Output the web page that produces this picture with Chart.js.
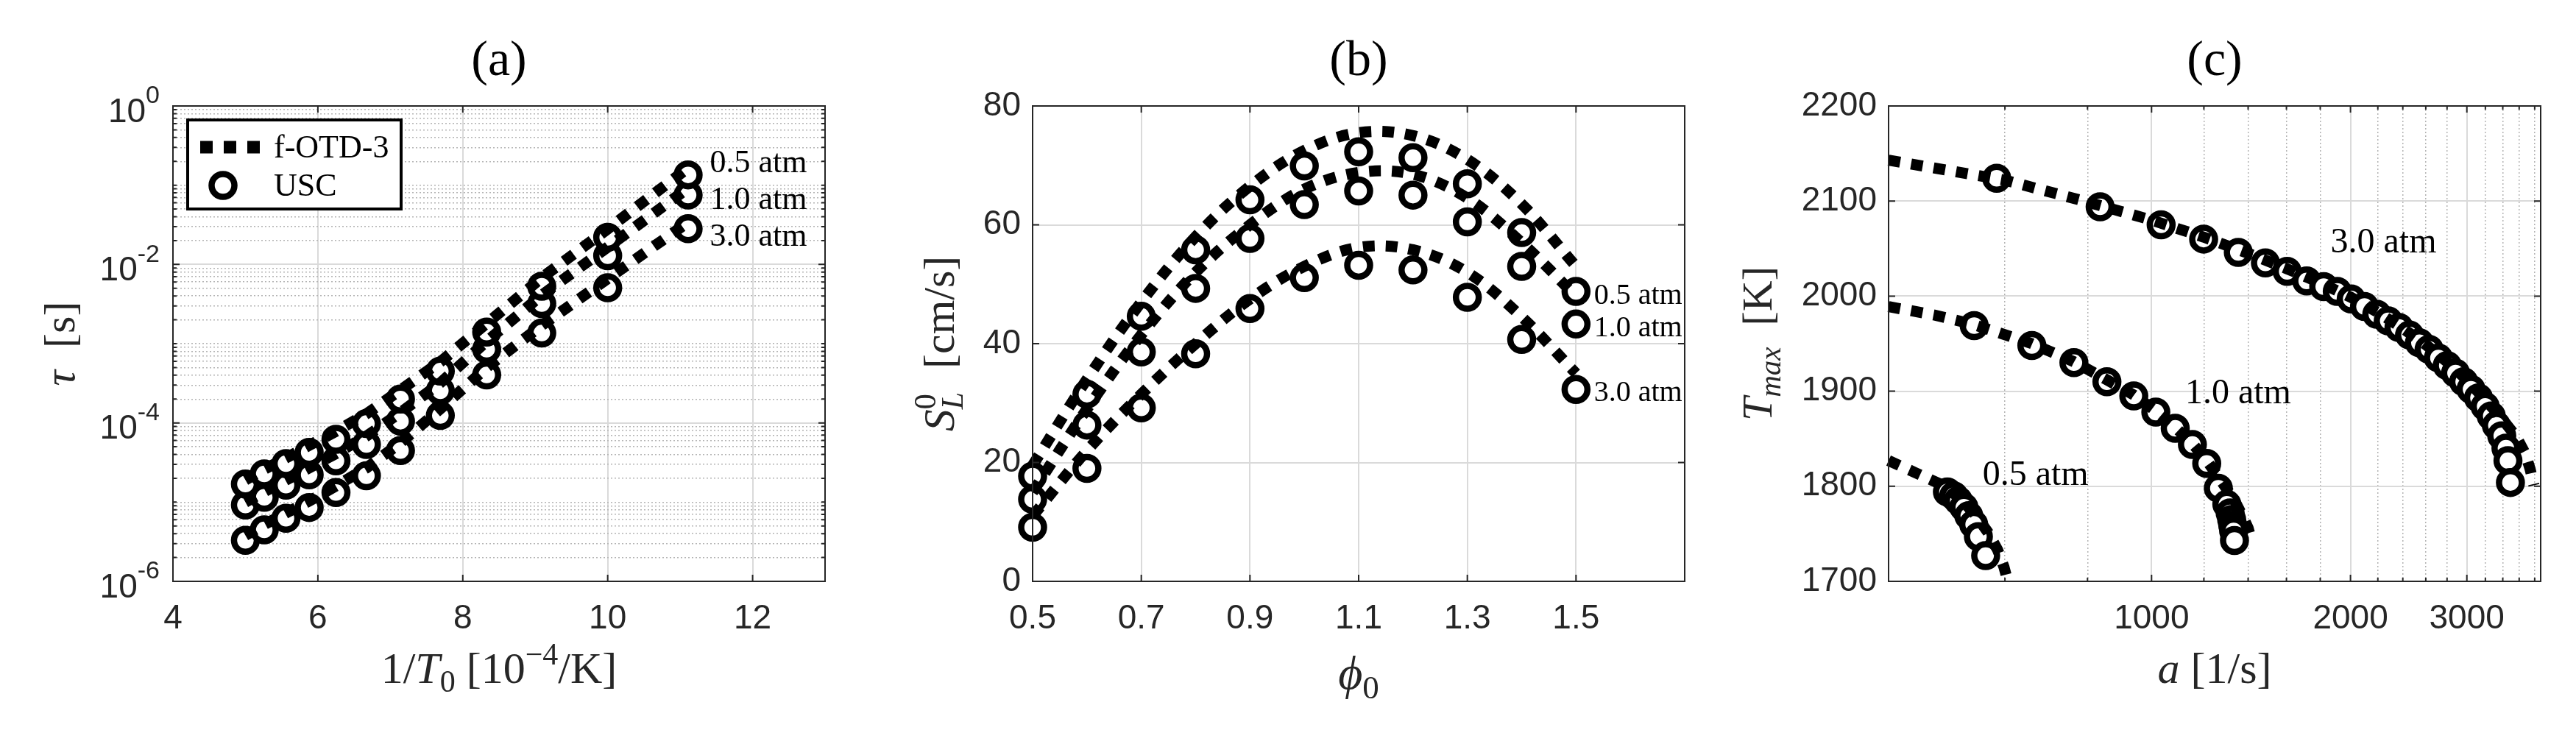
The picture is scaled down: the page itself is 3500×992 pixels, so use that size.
<!DOCTYPE html>
<html>
<head>
<meta charset="utf-8">
<script src="https://cdn.jsdelivr.net/npm/chart.js@4.4.1/dist/chart.umd.min.js"></script>
<style>
  html, body { margin: 0; padding: 0; background: #fff; }
  #wrap { position: relative; width: 3500px; height: 992px; background: #fff; }
  canvas { position: absolute; top: 0; }
</style>
</head>
<body>
<div id="wrap">
  <canvas id="ca" width="1166" height="992" style="left:0px"></canvas>
  <canvas id="cb" width="1167" height="992" style="left:1166px"></canvas>
  <canvas id="cc" width="1167" height="992" style="left:2333px"></canvas>
</div>
<script>
// ---- (a) ignition delay vs 1/T0 ----
const invT = [5.00, 5.26, 5.56, 5.88, 6.25, 6.67, 7.14, 7.69, 8.33, 9.09, 10.00, 11.11];
const tauUSC_05 = [1.69e-5, 2.27e-5, 3.06e-5, 4.25e-5, 6.2e-5, 9.8e-5, 2.0e-4, 4.5e-4, 1.40e-3, 5.3e-3, 2.2e-2, 0.135];
const tauUSC_10 = [9.2e-6, 1.15e-5, 1.64e-5, 2.21e-5, 3.32e-5, 5.34e-5, 1.05e-4, 2.54e-4, 8.5e-4, 3.2e-3, 1.29e-2, 0.075];
const tauUSC_30 = [3.3e-6, 4.46e-6, 6.26e-6, 8.55e-6, 1.32e-5, 2.15e-5, 4.48e-5, 1.24e-4, 4.03e-4, 1.36e-3, 5.07e-3, 0.0282];
const tauOTD_05 = [1.9e-5, 2.6e-5, 3.6e-5, 5.2e-5, 7.8e-5, 1.3e-4, 2.6e-4, 5.9e-4, 1.8e-3, 6.8e-3, 2.8e-2, 0.165];
const tauOTD_10 = [1.0e-5, 1.35e-5, 1.9e-5, 2.7e-5, 4.1e-5, 6.8e-5, 1.35e-4, 3.2e-4, 1.07e-3, 4.1e-3, 1.65e-2, 0.092];
const tauOTD_30 = [3.8e-6, 5.2e-6, 7.3e-6, 1.03e-5, 1.6e-5, 2.7e-5, 5.6e-5, 1.5e-4, 5.0e-4, 1.7e-3, 6.6e-3, 0.034];
const aTicksX = [4, 6, 8, 10, 12];
const aTicksY = [1e-6, 1e-4, 1e-2, 1];

// ---- (b) laminar flame speed vs phi ----
const phi = [0.5, 0.6, 0.7, 0.8, 0.9, 1.0, 1.1, 1.2, 1.3, 1.4, 1.5];
const slUSC_05 = [17.7, 31.5, 44.6, 55.8, 64.2, 69.9, 72.3, 71.3, 66.9, 58.7, 48.8];
const slUSC_10 = [13.8, 26.3, 38.6, 49.3, 57.7, 63.4, 65.7, 65.0, 60.5, 53.0, 43.3];
const slUSC_30 = [9.1, 19.0, 29.2, 38.3, 45.9, 51.1, 53.2, 52.4, 47.8, 40.7, 32.3];
const slOTD_05 = [19.5, 34.0, 47.0, 58.0, 66.5, 72.5, 75.5, 75.0, 71.0, 63.5, 53.0];
const slOTD_10 = [15.0, 29.0, 41.5, 52.0, 60.0, 66.0, 68.8, 68.5, 64.5, 57.0, 48.0];
const slOTD_30 = [11.0, 22.0, 31.5, 40.0, 47.5, 53.0, 56.2, 55.8, 52.0, 44.5, 35.0];
const bTicksX = [0.5, 0.7, 0.9, 1.1, 1.3, 1.5];
const bTicksY = [0, 20, 40, 60, 80];

// ---- (c) max temperature vs strain rate ----
const aUSC_30 = [583, 836, 1034, 1199, 1353, 1487, 1604, 1717, 1822, 1910, 2005, 2100, 2192, 2281, 2368, 2457, 2543, 2630, 2717, 2802, 2884, 2967, 3044, 3124, 3197, 3266, 3325, 3388, 3438, 3462, 3492];
const tUSC_30 = [2124, 2094, 2075, 2060, 2046, 2035, 2026, 2016, 2010, 2005, 1997, 1989, 1981, 1974, 1967, 1959, 1951, 1944, 1935, 1927, 1919, 1910, 1902, 1893, 1884, 1874, 1864, 1853, 1840, 1827, 1804];
const aUSC_10 = [539, 659, 763, 856, 940, 1015, 1086, 1153, 1212, 1262, 1300, 1315, 1322, 1327, 1331, 1335];
const tUSC_10 = [1969, 1948, 1930, 1910, 1895, 1878, 1861, 1844, 1824, 1798, 1781, 1772, 1765, 1759, 1753, 1743];
const aUSC_05 = [491, 502, 510, 520, 529, 538, 547, 561];
const tUSC_05 = [1794, 1790, 1785, 1778, 1769, 1760, 1747, 1727];
const aOTD_30 = [400, 600, 800, 1000, 1200, 1400, 1600, 1800, 2000, 2200, 2400, 2600, 2800, 3000, 3200, 3400, 3565, 3680, 3740, 3790];
const tOTD_30 = [2143, 2122, 2099, 2080, 2062, 2045, 2029, 2014, 1999, 1983, 1966, 1949, 1931, 1912, 1891, 1870, 1852, 1834, 1818, 1801];
const aOTD_10 = [400, 470, 539, 659, 763, 856, 940, 1015, 1086, 1153, 1212, 1262, 1300, 1340, 1375, 1400, 1418];
const tOTD_10 = [1989, 1980, 1970, 1950, 1931, 1912, 1896, 1879, 1862, 1845, 1827, 1810, 1797, 1783, 1768, 1756, 1742];
const aOTD_05 = [400, 440, 480, 510, 540, 565, 585, 598, 606];
const tOTD_05 = [1827, 1814, 1802, 1789, 1771, 1752, 1733, 1715, 1700];
const cTicksX = [1000, 2000, 3000];
const cMinorX = [600, 800, 1200, 1400, 1600, 1800, 2200, 2400, 2600, 2800, 3200, 3400, 3600, 3800];
const cTicksY = [1700, 1800, 1900, 2000, 2100, 2200];

const SANS = '"Liberation Sans", Arial, sans-serif';
const SERIF = '"Liberation Serif", "Times New Roman", serif';
const INK = '#262626';
const GRID = '#dadada';
const MINOR = '#b4b4b4';

function toXY(xs, ys) { return xs.map((x, i) => ({ x: x, y: ys[i] })); }

function usc(xs, ys) {
  return {
    data: toXY(xs, ys), showLine: false, order: 2, clip: false,
    pointRadius: 15.5, pointHoverRadius: 15.5, pointBorderWidth: 8.5, pointHoverBorderWidth: 8.5,
    pointBorderColor: '#000', pointBackgroundColor: '#fff'
  };
}
function otd(xs, ys, tension) {
  return {
    data: toXY(xs, ys), showLine: true, order: 1, clip: false, fill: false,
    borderColor: '#000', borderWidth: 15, borderDash: [16, 15], borderCapStyle: 'butt',
    tension: tension || 0, pointRadius: 0, pointHoverRadius: 0
  };
}
function setTicks(vals) { return ax => { ax.ticks = vals.map(v => ({ value: v })); }; }

function mainX(type, min, max, ticks, fmt) {
  return {
    type: type, position: 'bottom', min: min, max: max, afterBuildTicks: setTicks(ticks),
    grid: { color: GRID, lineWidth: 2, drawTicks: false },
    border: { display: false },
    ticks: { font: { family: SANS, size: 46 }, color: INK, padding: 24, autoSkip: false, maxRotation: 0, minRotation: 0, callback: fmt },
    afterFit: s => { s.height = 202; }
  };
}
function mainY(type, min, max, ticks, width, showLabels) {
  return {
    type: type, position: 'left', min: min, max: max, afterBuildTicks: setTicks(ticks),
    grid: { color: GRID, lineWidth: 2, drawTicks: false },
    border: { display: false },
    ticks: { display: showLabels, font: { family: SANS, size: 46 }, color: INK, padding: 16, callback: v => String(v) },
    afterFit: s => { s.width = width; }
  };
}
function minorAxis(type, pos, min, max, vals) {
  return {
    type: type, position: pos, min: min, max: max, afterBuildTicks: setTicks(vals),
    grid: { color: MINOR, lineWidth: 1.5, drawTicks: false },
    border: { display: false, dash: [2, 3] },
    ticks: { display: false },
    afterFit: s => { if (pos === 'left') s.width = 0; else s.height = 0; }
  };
}

function fnt(sz, it) { return (it ? 'italic ' : '') + sz + 'px ' + SERIF; }
// text with sub/superscripts, centred on (cx, cy)
function drawRich(ctx, parts, cx, cy, s, rot) {
  const ss = Math.round(s * 0.7);
  const items = [];
  let w = 0;
  for (const p of parts) {
    if (p.stack) {
      ctx.font = fnt(ss, false); const w1 = ctx.measureText(p.stack[0]).width;
      ctx.font = fnt(ss, p.it); const w2 = ctx.measureText(p.stack[1]).width;
      items.push({ p: p, x: w }); w += Math.max(w1, w2) + 2;
    } else {
      ctx.font = fnt(p.lv ? ss : s, p.it);
      items.push({ p: p, x: w }); w += ctx.measureText(p.t).width;
    }
  }
  ctx.save();
  ctx.translate(cx, cy);
  if (rot) ctx.rotate(rot);
  ctx.fillStyle = INK; ctx.textAlign = 'left'; ctx.textBaseline = 'alphabetic';
  const x0 = -w / 2, base = s * 0.3;
  for (const it of items) {
    const p = it.p;
    if (p.stack) {
      ctx.font = fnt(ss, false); ctx.fillText(p.stack[0], x0 + it.x, base - s * 0.42);
      ctx.font = fnt(ss, p.it); ctx.fillText(p.stack[1], x0 + it.x, base + s * 0.2);
    } else {
      ctx.font = fnt(p.lv ? ss : s, p.it);
      const dy = p.lv === 'sup' ? -s * 0.42 : (p.lv === 'sub' ? s * 0.2 : 0);
      ctx.fillText(p.t, x0 + it.x, base + dy);
    }
  }
  ctx.restore();
}

function frame(ctx, a) {
  ctx.save(); ctx.strokeStyle = INK; ctx.lineWidth = 2;
  ctx.strokeRect(a.left, a.top, a.right - a.left, a.bottom - a.top);
  ctx.restore();
}
function inTicks(ctx, a, scale, vals, len, horiz) {
  ctx.save(); ctx.strokeStyle = INK; ctx.lineWidth = 2; ctx.beginPath();
  for (const v of vals) {
    const p = scale.getPixelForValue(v);
    if (horiz) {
      ctx.moveTo(p, a.bottom); ctx.lineTo(p, a.bottom - len);
      ctx.moveTo(p, a.top); ctx.lineTo(p, a.top + len);
    } else {
      ctx.moveTo(a.left, p); ctx.lineTo(a.left + len, p);
      ctx.moveTo(a.right, p); ctx.lineTo(a.right - len, p);
    }
  }
  ctx.stroke(); ctx.restore();
}
function panelTitle(ctx, a, t) {
  ctx.save(); ctx.fillStyle = '#000'; ctx.font = '68px ' + SERIF;
  ctx.textAlign = 'center'; ctx.textBaseline = 'middle';
  ctx.fillText(t, (a.left + a.right) / 2, 84);
  ctx.restore();
}
function atmLabel(chart, x, y, t, size) {
  const ctx = chart.ctx;
  ctx.save(); ctx.fillStyle = '#000'; ctx.font = size + 'px ' + SERIF;
  ctx.textAlign = 'left'; ctx.textBaseline = 'middle';
  ctx.fillText(t, chart.scales.x.getPixelForValue(x), chart.scales.y.getPixelForValue(y));
  ctx.restore();
}

function makeChart(id, datasets, scales, pad, deco) {
  return new Chart(document.getElementById(id), {
    type: 'scatter',
    data: { datasets: datasets },
    options: {
      responsive: false, animation: false, devicePixelRatio: 1, events: [],
      layout: { padding: pad },
      plugins: { legend: { display: false }, tooltip: { enabled: false }, title: { display: false } },
      scales: scales
    },
    plugins: [{ id: 'deco', afterDraw: deco }]
  });
}

// minor log ticks for (a)
const aMinorY = [];
for (let k = -6; k <= -1; k++) {
  for (let n = 1; n <= 9; n++) {
    if (n === 1 && k % 2 === 0) continue;
    aMinorY.push(n * Math.pow(10, k));
  }
}

// ---------- chart (a) ----------
makeChart('ca',
  [otd(invT, tauOTD_05), otd(invT, tauOTD_10), otd(invT, tauOTD_30),
   usc(invT, tauUSC_05), usc(invT, tauUSC_10), usc(invT, tauUSC_30)],
  {
    x: mainX('linear', 4, 13, aTicksX, v => String(v)),
    y: mainY('logarithmic', 1e-6, 1, aTicksY, 235, false),
    y2: minorAxis('logarithmic', 'left', 1e-6, 1, aMinorY)
  },
  { left: 0, top: 144, right: 45, bottom: 0 },
  chart => {
    const ctx = chart.ctx, a = chart.chartArea;
    frame(ctx, a);
    inTicks(ctx, a, chart.scales.x, aTicksX, 9, true);
    inTicks(ctx, a, chart.scales.y, aTicksY, 9, false);
    inTicks(ctx, a, chart.scales.y, aMinorY, 5, false);
    // y tick labels 10^k
    ctx.save(); ctx.fillStyle = INK; ctx.textBaseline = 'middle'; ctx.textAlign = 'left';
    for (const v of aTicksY) {
      const py = chart.scales.y.getPixelForValue(v);
      const sup = String(Math.round(Math.log10(v)));
      ctx.font = '34px ' + SANS; const ws = ctx.measureText(sup).width;
      ctx.font = '46px ' + SANS; const wb = ctx.measureText('10').width;
      const r = a.left - 18;
      ctx.fillText('10', r - ws - wb, py + 9);
      ctx.font = '34px ' + SANS; ctx.fillText(sup, r - ws, py - 13);
    }
    ctx.restore();
    panelTitle(ctx, a, '(a)');
    drawRich(ctx, [{ t: '1/' }, { t: 'T', it: true }, { t: '0', lv: 'sub' }, { t: ' [10' }, { t: '\u22124', lv: 'sup' }, { t: '/K]' }], (a.left + a.right) / 2, 910, 60, 0);
    drawRich(ctx, [{ t: '\u03c4', it: true }, { t: '  [s]' }], 83, (a.top + a.bottom) / 2, 60, -Math.PI / 2);
    atmLabel(chart, 11.41, 0.187, '0.5 atm', 44);
    atmLabel(chart, 11.41, 0.064, '1.0 atm', 44);
    atmLabel(chart, 11.41, 0.0219, '3.0 atm', 44);
    // legend
    ctx.save();
    ctx.fillStyle = '#fff'; ctx.fillRect(255, 163, 290, 121);
    ctx.strokeStyle = '#000'; ctx.lineWidth = 4; ctx.strokeRect(255, 163, 290, 121);
    ctx.lineWidth = 17; ctx.setLineDash([17, 15]); ctx.lineCap = 'butt';
    ctx.beginPath(); ctx.moveTo(272, 200); ctx.lineTo(355, 200); ctx.stroke();
    ctx.setLineDash([]); ctx.lineWidth = 8.5;
    ctx.beginPath(); ctx.arc(303, 252, 15.5, 0, Math.PI * 2); ctx.stroke();
    ctx.fillStyle = '#000'; ctx.font = '44px ' + SERIF; ctx.textBaseline = 'middle'; ctx.textAlign = 'left';
    ctx.fillText('f-OTD-3', 372, 202);
    ctx.fillText('USC', 372, 254);
    ctx.restore();
  });

// ---------- chart (b) ----------
makeChart('cb',
  [otd(phi, slOTD_05, 0.35), otd(phi, slOTD_10, 0.35), otd(phi, slOTD_30, 0.35),
   usc(phi, slUSC_05), usc(phi, slUSC_10), usc(phi, slUSC_30)],
  {
    x: mainX('linear', 0.5, 1.7, bTicksX, v => Number(v).toFixed(1)),
    y: mainY('linear', 0, 80, bTicksY, 237, true)
  },
  { left: 0, top: 144, right: 44, bottom: 0 },
  chart => {
    const ctx = chart.ctx, a = chart.chartArea;
    frame(ctx, a);
    inTicks(ctx, a, chart.scales.x, bTicksX, 9, true);
    inTicks(ctx, a, chart.scales.y, bTicksY, 9, false);
    panelTitle(ctx, a, '(b)');
    drawRich(ctx, [{ t: '\u03d5', it: true }, { t: '0', lv: 'sub' }], (a.left + a.right) / 2, 917, 64, 0);
    drawRich(ctx, [{ t: 'S', it: true }, { stack: ['0', 'L'], it: true }, { t: '  [cm/s]' }], 112, (a.top + a.bottom) / 2, 60, -Math.PI / 2);
    atmLabel(chart, 1.533, 48.0, '0.5 atm', 40);
    atmLabel(chart, 1.533, 42.6, '1.0 atm', 40);
    atmLabel(chart, 1.533, 31.6, '3.0 atm', 40);
  });

// ---------- chart (c) ----------
makeChart('cc',
  [otd(aOTD_30, tOTD_30), otd(aOTD_10, tOTD_10), otd(aOTD_05, tOTD_05),
   usc(aUSC_30, tUSC_30), usc(aUSC_10, tUSC_10), usc(aUSC_05, tUSC_05)],
  {
    x: mainX('logarithmic', 400, 3880, cTicksX, v => String(v)),
    x2: minorAxis('logarithmic', 'bottom', 400, 3880, cMinorX),
    y: mainY('linear', 1700, 2200, cTicksY, 233, true)
  },
  { left: 0, top: 144, right: 48, bottom: 0 },
  chart => {
    const ctx = chart.ctx, a = chart.chartArea;
    frame(ctx, a);
    inTicks(ctx, a, chart.scales.x, cTicksX, 9, true);
    inTicks(ctx, a, chart.scales.x, cMinorX, 5, true);
    inTicks(ctx, a, chart.scales.y, cTicksY, 9, false);
    panelTitle(ctx, a, '(c)');
    drawRich(ctx, [{ t: 'a', it: true }, { t: ' [1/s]' }], (a.left + a.right) / 2, 910, 60, 0);
    drawRich(ctx, [{ t: 'T', it: true }, { t: 'max', it: true, lv: 'sub' }, { t: '  [K]' }], 57, (a.top + a.bottom) / 2, 58, -Math.PI / 2);
    atmLabel(chart, 1866, 2056, '3.0 atm', 48);
    atmLabel(chart, 1124, 1897, '1.0 atm', 48);
    atmLabel(chart, 555, 1811.5, '0.5 atm', 48);
  });
</script>
</body>
</html>
